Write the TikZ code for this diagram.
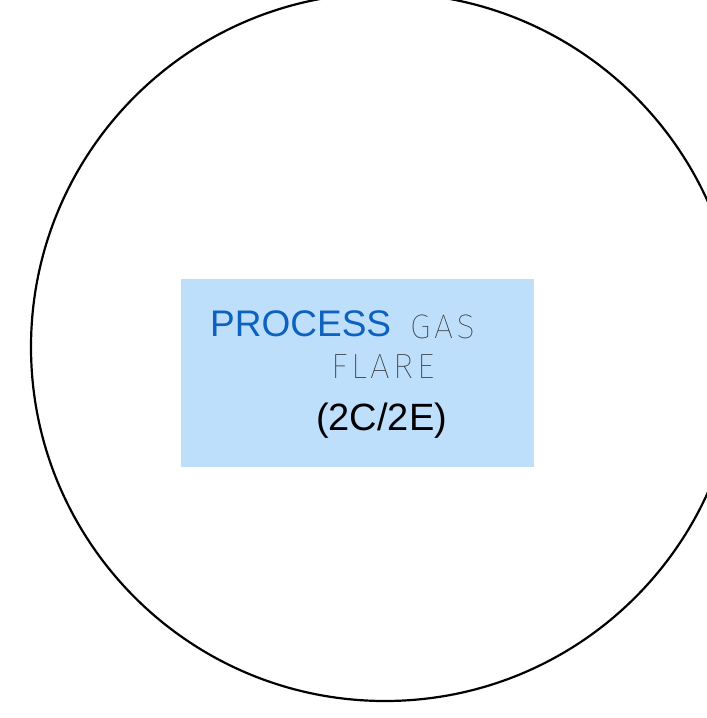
\documentclass[tikz,border=0pt]{standalone}
\usepackage{fontspec}
\setmainfont{Liberation Sans}
\newfontfamily\thinfont[LetterSpace=10]{Fira Sans Thin}
\definecolor{boxblue}{RGB}{190,223,252}
\definecolor{procblue}{RGB}{12,98,190}
\definecolor{thingray}{RGB}{40,40,40}
\begin{document}
\begin{tikzpicture}[x=1pt,y=-1pt,
  lbl/.style={inner sep=0pt,anchor=base west}]
\useasboundingbox (0,0) rectangle (707,718);
\begin{scope}
\clip (0,0) rectangle (707,718);
\draw[line width=2.2pt] (385,347) circle[radius=354];
\end{scope}
\node[fill=boxblue,minimum width=353pt,minimum height=188pt,inner sep=0pt,anchor=north west] (box) at (181,279) {};
\node[lbl,text=procblue,font=\fontsize{37}{40}\selectfont] (proc) at (210,336) {PROCESS};
\node[lbl,text=thingray,font=\thinfont\fontsize{34}{38}\selectfont] (gas) at (410,338) {GAS};
\node[lbl,text=thingray,font=\thinfont\fontsize{35}{38}\selectfont] (flare) at (331,378) {FLARE};
\node[lbl,font=\fontsize{38}{40}\selectfont] (code) at (316,430) {(2C/2E)};
\end{tikzpicture}
\end{document}
